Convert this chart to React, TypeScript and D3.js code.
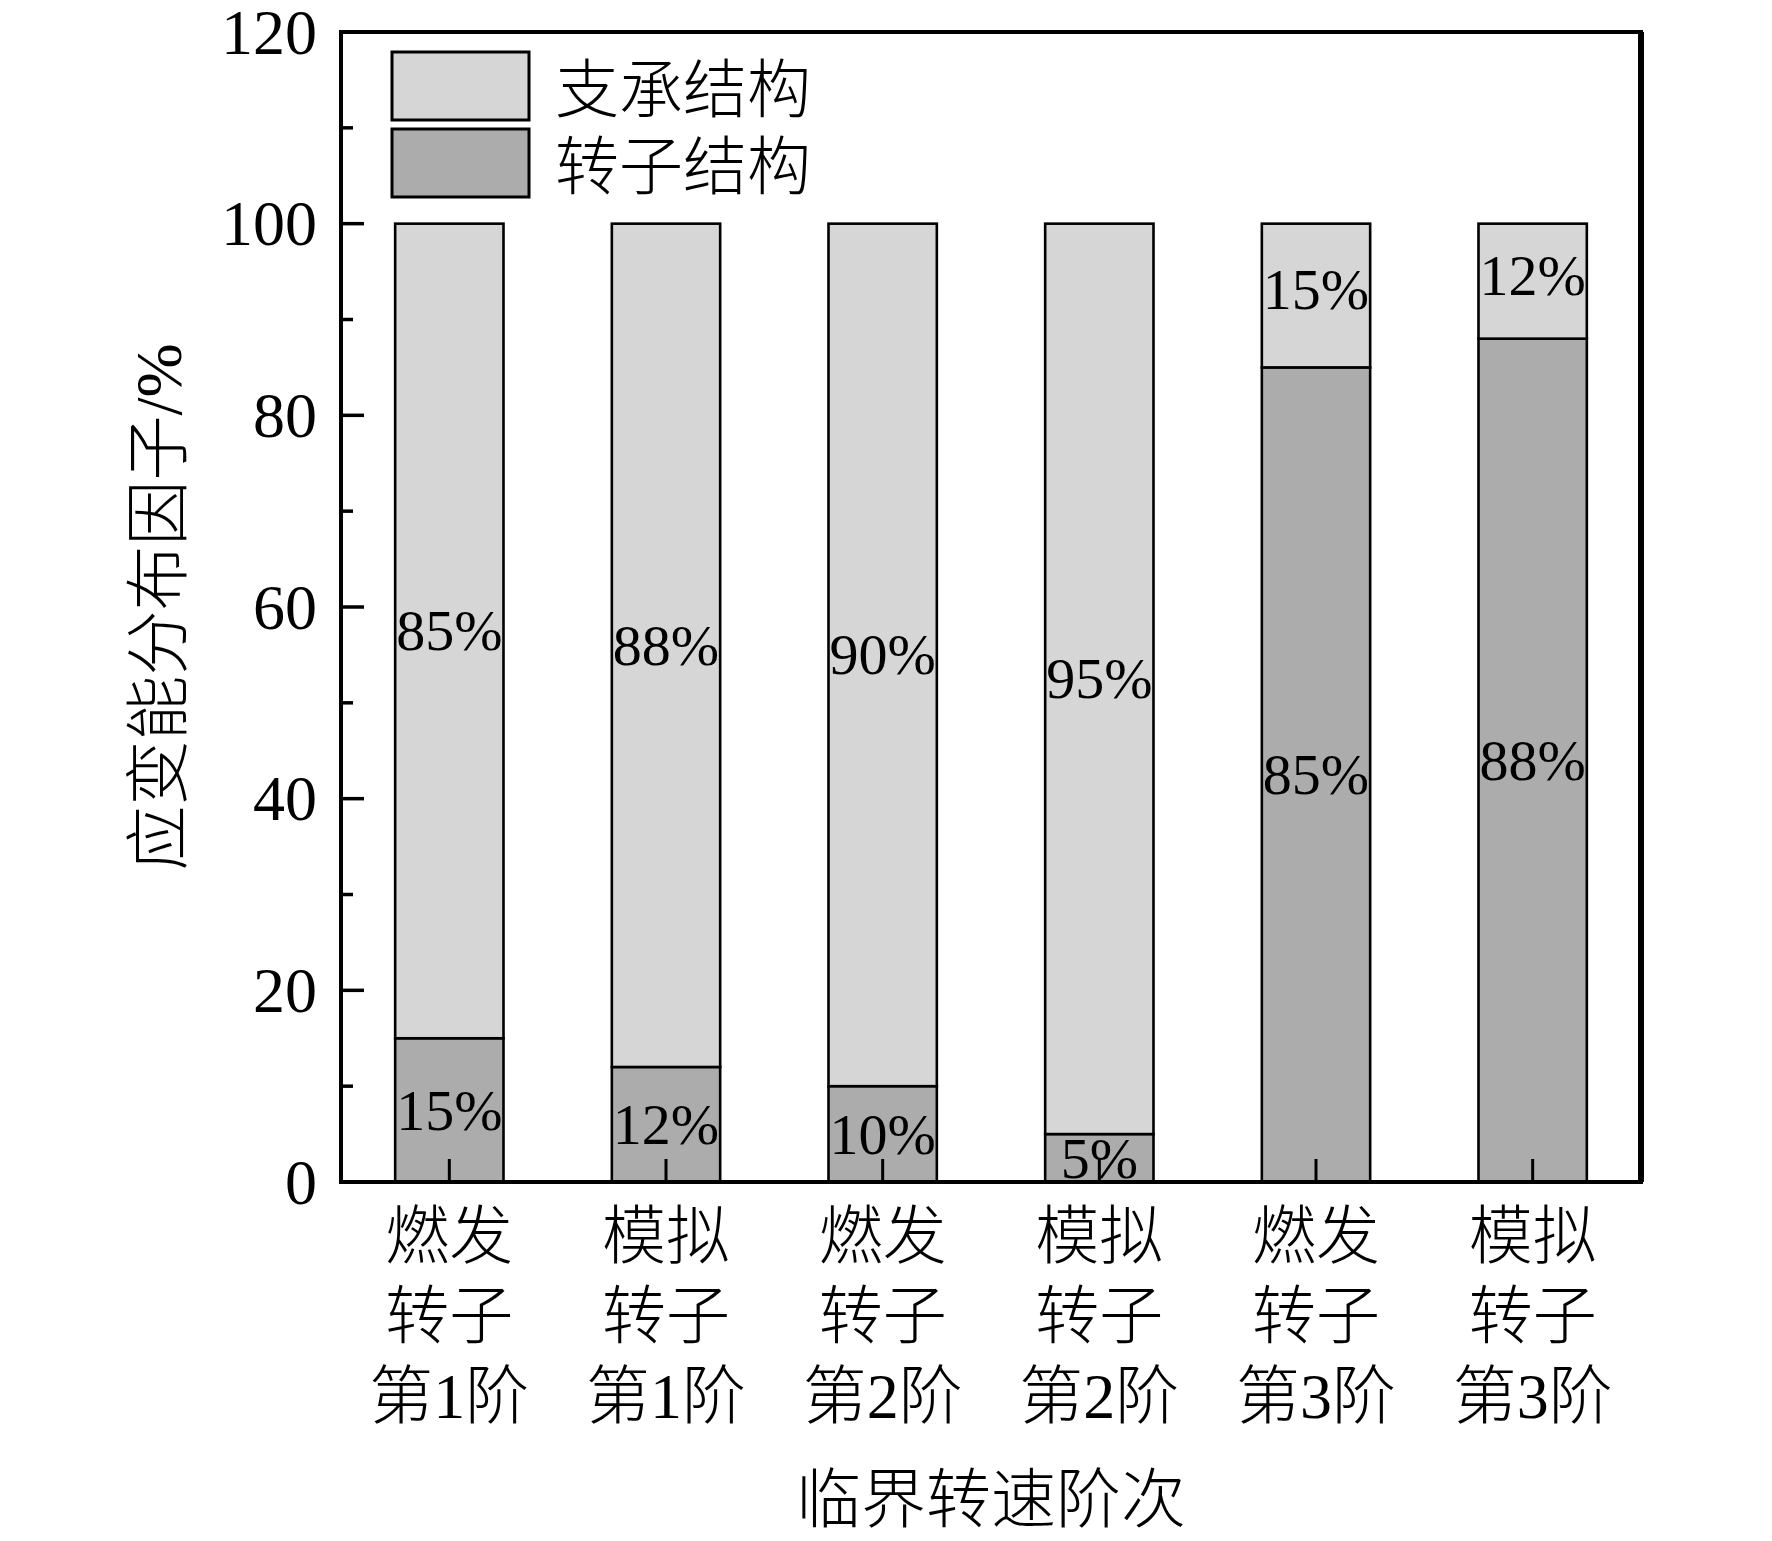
import { useEffect, type FC } from 'react';
import * as d3 from 'd3';

// chart data
const categoryLines = [
  ['燃发', '转子', '第1阶'],
  ['模拟', '转子', '第1阶'],
  ['燃发', '转子', '第2阶'],
  ['模拟', '转子', '第2阶'],
  ['燃发', '转子', '第3阶'],
  ['模拟', '转子', '第3阶'],
];
const rotorShare = [15, 12, 10, 5, 85, 88];
const supportShare = [85, 88, 90, 95, 15, 12];
const seriesKeys = ['rotor', 'support'];
const seriesNames: Record<string, string> = { support: '支承结构', rotor: '转子结构' };
const legendOrder = ['support', 'rotor'];
const yTicks = [0, 20, 40, 60, 80, 100, 120];
const yMinorTicks = [10, 30, 50, 70, 90, 110];
const xTitle = '临界转速阶次';
const yTitle = '应变能分布因子/%';

const WIDTH = 1772;
const HEIGHT = 1541;
const margin = { left: 341, right: 131, top: 32, bottom: 359 };
const COLORS: Record<string, string> = { support: '#d6d6d6', rotor: '#acacac' };
const FONT = "'Liberation Serif', 'Noto Sans CJK SC', serif";

const App: FC = () => {
  useEffect(() => {
    document.body.style.margin = '0';
  }, []);

  const x0 = margin.left;
  const x1 = WIDTH - margin.right;
  const y0 = HEIGHT - margin.bottom;
  const y1 = margin.top;

  const table = categoryLines.map((_, i) => ({
    idx: String(i),
    rotor: rotorShare[i],
    support: supportShare[i],
  }));

  const stacked = d3.stack<(typeof table)[number]>().keys(seriesKeys)(table);

  const xScale = d3
    .scaleBand<string>()
    .domain(table.map((d) => d.idx))
    .range([x0, x1])
    .paddingInner(0.5)
    .paddingOuter(0.25);

  const yScale = d3.scaleLinear().domain([0, 120]).range([y0, y1]);
  const bw = xScale.bandwidth();

  return (
    <svg
      width={WIDTH}
      height={HEIGHT}
      style={{ display: 'block', background: '#fff' }}
      fontFamily={FONT}
    >
      {/* bars */}
      {stacked.map((layer) =>
        layer.map((seg, i) => (
          <rect
            key={`${layer.key}-${i}`}
            x={xScale(String(i))}
            y={yScale(seg[1])}
            width={bw}
            height={yScale(seg[0]) - yScale(seg[1])}
            fill={COLORS[layer.key]}
            stroke="#000"
            strokeWidth={2.6}
          />
        )),
      )}

      {/* value labels */}
      {stacked.map((layer) =>
        layer.map((seg, i) => (
          <text
            key={`lab-${layer.key}-${i}`}
            x={(xScale(String(i)) ?? 0) + bw / 2}
            y={yScale((seg[0] + seg[1]) / 2) - (seg[1] === 100 && seg[0] > 50 ? 6 : 0)}
            textAnchor="middle"
            dominantBaseline="central"
            fontSize={58}
            fill="#000"
          >
            {`${seg[1] - seg[0]}%`}
          </text>
        )),
      )}

      {/* bottom ticks at bar centers */}
      {table.map((d) => {
        const cx = (xScale(d.idx) ?? 0) + bw / 2;
        return <line key={`xt-${d.idx}`} x1={cx} x2={cx} y1={y0} y2={y0 - 23} stroke="#000" strokeWidth={3} />;
      })}

      {/* left ticks */}
      {yTicks.map((t) => (
        <g key={`yt-${t}`}>
          <line x1={x0} x2={x0 + 23} y1={yScale(t)} y2={yScale(t)} stroke="#000" strokeWidth={3.5} />
          <text
            x={x0 - 24}
            y={yScale(t)}
            textAnchor="end"
            dominantBaseline="central"
            fontSize={64}
          >
            {t}
          </text>
        </g>
      ))}
      {yMinorTicks.map((t) => (
        <line key={`ym-${t}`} x1={x0} x2={x0 + 12} y1={yScale(t)} y2={yScale(t)} stroke="#000" strokeWidth={3.5} />
      ))}

      {/* frame */}
      <rect x={x0} y={y1} width={x1 - x0} height={y0 - y1} fill="none" stroke="#000" strokeWidth={4} />
      <line x1={x1} x2={x1} y1={y1} y2={y0} stroke="#000" strokeWidth={6} />

      {/* legend */}
      {legendOrder.map((k, i) => (
        <g key={`lg-${k}`} transform={`translate(392, ${52 + i * 77})`}>
          <rect width={137} height={68} fill={COLORS[k]} stroke="#000" strokeWidth={3} />
          <text x={163} y={38} dominantBaseline="central" fontSize={64} fontWeight={300}>
            {seriesNames[k]}
          </text>
        </g>
      ))}

      {/* category labels */}
      {categoryLines.map((lines, i) => {
        const cx = (xScale(String(i)) ?? 0) + bw / 2;
        return (
          <g key={`cat-${i}`}>
            {lines.map((ln, j) => (
              <text
                key={j}
                x={cx}
                y={1236 + j * 80}
                textAnchor="middle"
                dominantBaseline="central"
                fontSize={64}
                fontWeight={300}
              >
                {ln}
              </text>
            ))}
          </g>
        );
      })}

      {/* axis titles */}
      <text
        x={(x0 + x1) / 2}
        y={1500}
        textAnchor="middle"
        dominantBaseline="central"
        fontSize={65}
        fontWeight={300}
      >
        {xTitle}
      </text>
      <text
        transform={`translate(159, ${(y0 + y1) / 2}) rotate(-90)`}
        textAnchor="middle"
        dominantBaseline="central"
        fontSize={65}
        fontWeight={300}
      >
        {yTitle}
      </text>
    </svg>
  );
};

export default App;
